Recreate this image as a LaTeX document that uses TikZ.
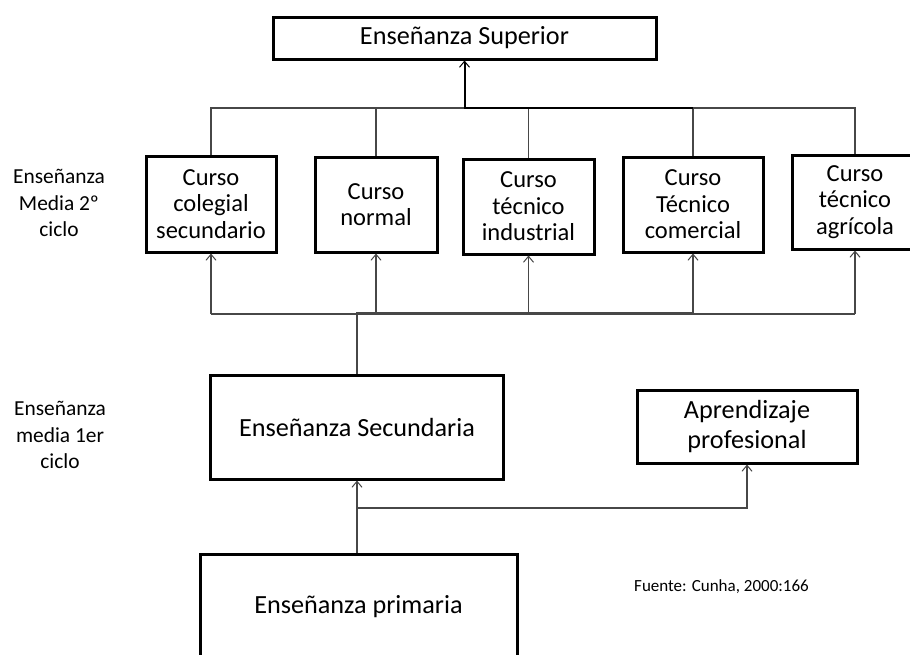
\documentclass[tikz,border=0pt]{standalone}
\usepackage{fontspec}
\setmainfont{Carlito}
\usetikzlibrary{arrows.meta}
\begin{document}
\begin{tikzpicture}[x=1pt,y=-1pt,
  box/.style={draw=black,line width=3pt,fill=white,rectangle,inner sep=0pt,align=center},
  bigtext/.style={font=\fontsize{26.2}{30}\selectfont},
  coursetext/.style={font=\fontsize{24.5}{26.5}\selectfont},
  labeltext/.style={font=\fontsize{21.4}{26.5}\selectfont},
  link/.style={draw=black!72,line width=1.1pt},
  tip/.style={-{Straight Barb[length=6pt,width=10pt,line width=1pt]}}
]
\useasboundingbox (0,0) rectangle (910,654);
\clip (0,0) rectangle (910,654);

% higher education
\node[box,bigtext,minimum width=383,minimum height=42] (sup) at (464.5,38) {Enseñanza Superior};

% second cycle courses
\node[box,coursetext,minimum width=130,minimum height=96] (c1) at (211,204) {Curso\\colegial\\secundario};
\node[box,coursetext,minimum width=122,minimum height=95] (c2) at (376,204.5) {Curso\\normal};
\node[box,coursetext,minimum width=131,minimum height=95] (c3) at (528.5,206.5) {Curso\\técnico\\industrial};
\node[box,coursetext,minimum width=140,minimum height=95] (c4) at (693,204.5) {Curso\\Técnico\\comercial};
\node[box,coursetext,minimum width=126,minimum height=94] (c5) at (855,202) {Curso\\técnico\\agrícola};

% first cycle and primary
\node[box,bigtext,minimum width=293,minimum height=104] (sec) at (357,427) {Enseñanza Secundaria};
\node[box,bigtext,minimum width=220,minimum height=73] (apr) at (747,426.5) {Aprendizaje\\profesional};
\node[box,bigtext,minimum width=317,minimum height=106] (pri) at (358.5,607) {Enseñanza primaria};

% level labels and source
\node[labeltext,align=center] (lab2) at (59,203) {Enseñanza\\Media 2º\\ciclo};
\node[labeltext,align=center] (lab1) at (60,435) {Enseñanza\\media 1er\\ciclo};
\node[font=\fontsize{17}{20}\selectfont] (src) at (721.5,587) {Fuente: Cunha, 2000:166};

% bus lines
\coordinate (tbus) at (530,108);
\coordinate (mbus) at (530,314);
\coordinate (mbus2) at (530,312.4);
\coordinate (brn) at (530,508);

% upper bus to higher education
\draw[link] (c1.north) |- (tbus) -| (c5.north);
\draw[link] (c2.north) -- (c2.north |- tbus);
\draw[link] (c3.north) -- (c3.north |- tbus);
\draw[link] (c4.north) -- (c4.north |- tbus);
\draw[draw=black,line width=2pt,tip] (c4.north |- tbus) -- (sup.south |- tbus) -- (sup.south);

% lower bus into the courses
\draw[link] (c1.south |- mbus) -- (c5.south |- mbus);
\foreach \n in {c1,c2,c3,c4,c5}
  \draw[link,tip] (\n.south |- mbus) -- (\n.south);
\draw[link] (sec.north) |- (c4.south |- mbus2);

% primary to first cycle
\draw[link,tip] (pri.north -| sec.south) -- (sec.south);
\draw[link,tip] (sec.south |- brn) -| (apr.south);
\end{tikzpicture}
\end{document}
